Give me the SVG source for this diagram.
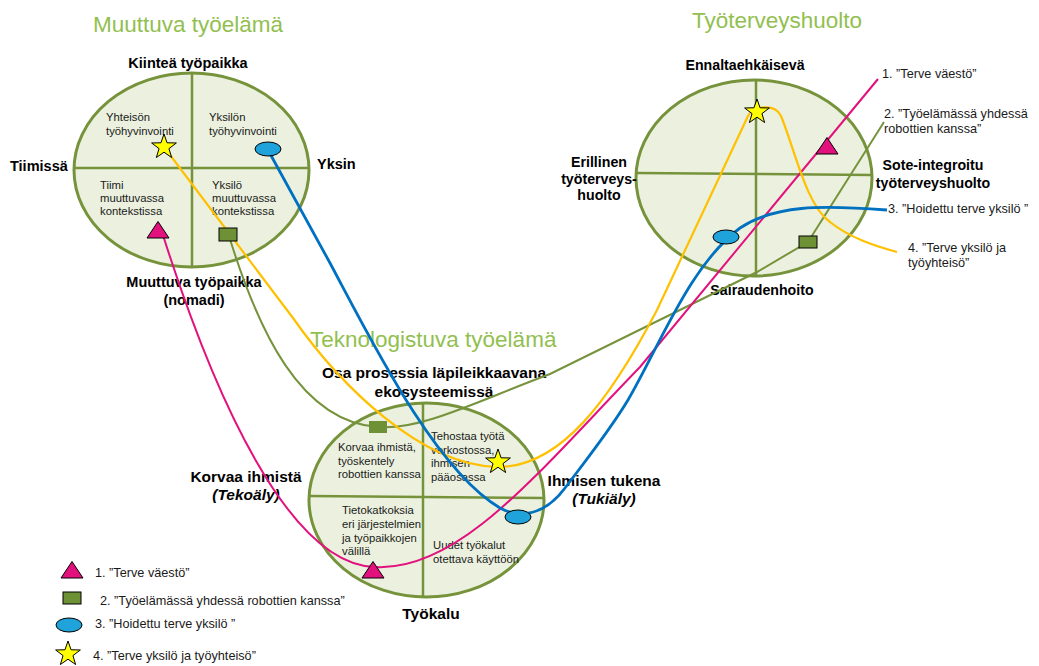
<svg xmlns="http://www.w3.org/2000/svg" xmlns:xlink="http://www.w3.org/1999/xlink" width="1039" height="666" viewBox="0 0 1039 666">
<defs>
<style>
.circ{fill:#EBF1DE;stroke:#76933C;stroke-width:3}
.axis{stroke:#76933C;stroke-width:2.5;fill:none}
.title{font-family:"Liberation Sans",Arial,sans-serif;font-size:22.5px;fill:#92C050}
.lbl{font-family:"Liberation Sans",Arial,sans-serif;font-weight:bold;font-size:14.5px;fill:#000}
.lbl2{font-family:"Liberation Sans",Arial,sans-serif;font-weight:bold;font-size:15.5px;fill:#000}
.in{font-family:"Liberation Sans",Arial,sans-serif;font-size:11.3px;fill:#1a1a1a}
.leg{font-family:"Liberation Sans",Arial,sans-serif;font-size:12.7px;fill:#1a1a1a}
.c{text-anchor:middle}
.pink{stroke:#E2117E;stroke-width:2;fill:none}
.green{stroke:#76933C;stroke-width:2;fill:none}
.yellow{stroke:#FFC000;stroke-width:2.2;fill:none}
.blue{stroke:#0070C0;stroke-width:2.8;fill:none}
.tri{fill:#E2117E;stroke:#000;stroke-width:1}
.sq{fill:#6E9135;stroke:#000;stroke-width:1}
.ell{fill:#1FA3DA;stroke:#000;stroke-width:1}
.star{fill:#FFFF00;stroke:#000;stroke-width:1}
</style>
<polygon id="star" points="0,-13 3.06,-4.21 12.36,-4.02 4.95,1.61 7.64,10.52 0,5.2 -7.64,10.52 -4.95,1.61 -12.36,-4.02 -3.06,-4.21"/>
<polygon id="tri" points="0,-8.5 11,8 -11,8"/>
</defs>
<rect width="1039" height="666" fill="#fff"/>

<g id="muuttuva">
<text class="title" x="93" y="32">Muuttuva työelämä</text>
<ellipse class="circ" cx="191.5" cy="170" rx="117.5" ry="97"/>
<line class="axis" x1="192" y1="73" x2="192" y2="267"/>
<line class="axis" x1="74" y1="168" x2="309" y2="168"/>
<text class="lbl c" x="188" y="68">Kiinteä työpaikka</text>
<text class="lbl" x="10" y="171">Tiimissä</text>
<text class="lbl" x="317" y="169">Yksin</text>
<text class="lbl c" x="194" y="287">Muuttuva työpaikka</text>
<text class="lbl c" x="194" y="305">(nomadi)</text>
<text class="in" x="106" y="121">Yhteisön</text>
<text class="in" x="106" y="135">työhyvinvointi</text>
<text class="in" x="209" y="121">Yksilön</text>
<text class="in" x="209" y="135">työhyvinvointi</text>
<text class="in" x="100" y="189">Tiimi</text>
<text class="in" x="100" y="202">muuttuvassa</text>
<text class="in" x="100" y="215">kontekstissa</text>
<text class="in" x="212" y="189">Yksilö</text>
<text class="in" x="212" y="202">muuttuvassa</text>
<text class="in" x="212" y="215">kontekstissa</text>
</g>

<g id="tyoterveyshuolto">
<text class="title" x="692" y="28">Työterveyshuolto</text>
<ellipse class="circ" cx="754" cy="178" rx="118" ry="98"/>
<line class="axis" x1="756" y1="80" x2="756" y2="276"/>
<line class="axis" x1="636" y1="173" x2="872" y2="175"/>
<text class="lbl c" x="745" y="70" style="font-size:14.2px">Ennaltaehkäisevä</text>
<text class="lbl c" x="599" y="167" style="font-size:14.2px">Erillinen</text>
<text class="lbl c" x="599" y="184" style="font-size:14.2px">työterveys-</text>
<text class="lbl c" x="599" y="200" style="font-size:14.2px">huolto</text>
<text class="lbl c" x="933" y="170" style="font-size:14.2px">Sote-integroitu</text>
<text class="lbl c" x="933" y="188" style="font-size:14.2px">työterveyshuolto</text>
<text class="lbl c" x="762" y="295" style="font-size:14.2px">Sairaudenhoito</text>
</g>

<g id="teknologistuva">
<text class="title" x="310" y="347">Teknologistuva työelämä</text>
<ellipse class="circ" cx="426.5" cy="500" rx="117.5" ry="97"/>
<line class="axis" x1="423" y1="403" x2="423" y2="597"/>
<line class="axis" x1="309" y1="496" x2="544" y2="498"/>
<text class="lbl2 c" x="434" y="378">Osa prosessia läpileikkaavana</text>
<text class="lbl2 c" x="434" y="397">ekosysteemissä</text>
<text class="lbl2 c" x="246" y="482">Korvaa ihmistä</text>
<text class="lbl2 c" x="246" y="500" font-style="italic">(Tekoäly)</text>
<text class="lbl2 c" x="604" y="486">Ihmisen tukena</text>
<text class="lbl2 c" x="604" y="504" font-style="italic">(Tukiäly)</text>
<text class="lbl2 c" x="431" y="619">Työkalu</text>
<text class="in" x="338" y="451">Korvaa ihmistä,</text>
<text class="in" x="338" y="465">työskentely</text>
<text class="in" x="338" y="478">robottien kanssa</text>
<text class="in" x="431" y="440">Tehostaa työtä</text>
<text class="in" x="431" y="454">verkostossa,</text>
<text class="in" x="431" y="467">ihmisen</text>
<text class="in" x="431" y="481">pääosassa</text>
<text class="in" x="342" y="514">Tietokatkoksia</text>
<text class="in" x="342" y="528">eri järjestelmien</text>
<text class="in" x="342" y="542">ja työpaikkojen</text>
<text class="in" x="342" y="555">välillä</text>
<text class="in" x="433" y="549">Uudet työkalut</text>
<text class="in" x="433" y="563">otettava käyttöön</text>
</g>

<g id="connectors">
<path class="green" d="M229,236 C258,330 300,422 378,427 C420,431 480,400 550,374 L757,272 L808,242 L884,122"/>
<path class="pink" d="M162,232 C215,400 290,565 375,567 C460,572 540,470 640,367 L878,79"/>
<path class="yellow" d="M164,147 L293,318 C340,385 420,465 497,467 C560,468 610,400 657,310 L748,116 C753,106 775,103 781,116 C795,150 806,205 830,222 C850,238 875,246 897,252"/>
<path class="blue" d="M268,150 L330,263 C370,338 435,470 500,508 C520,519 545,515 565,488 C590,455 610,430 628,400 C660,345 690,265 740,228 C775,205 820,205 887,210"/>
</g>

<g id="markers">
<use href="#star" class="star" x="164" y="147"/>
<ellipse class="ell" cx="268" cy="149" rx="13" ry="7"/>
<use href="#tri" class="tri" x="158" y="230"/>
<rect class="sq" x="219" y="228" width="18" height="13"/>
<use href="#star" class="star" x="757" y="112"/>
<use href="#tri" class="tri" x="827" y="146"/>
<ellipse class="ell" cx="726" cy="237" rx="13" ry="7"/>
<rect class="sq" x="799" y="236" width="18" height="12"/>
<rect x="369" y="421" width="18" height="12" fill="#6E9135"/>
<use href="#star" class="star" x="498" y="462"/>
<ellipse class="ell" cx="518" cy="517" rx="13" ry="7"/>
<use href="#tri" class="tri" x="373" y="570"/>
</g>

<g id="labels-right">
<text class="leg" x="882" y="78">1. ”Terve väestö”</text>
<text class="leg" x="884" y="118">2. ”Työelämässä yhdessä</text>
<text class="leg" x="884" y="133">robottien kanssa”</text>
<text class="leg" x="888" y="213">3. ”Hoidettu terve yksilö ”</text>
<text class="leg" x="908" y="252">4. ”Terve yksilö ja</text>
<text class="leg" x="908" y="267">työyhteisö”</text>
</g>

<g id="legend">
<use href="#tri" class="tri" x="72" y="570"/>
<text class="leg" x="95" y="577">1. ”Terve väestö”</text>
<rect class="sq" x="63" y="592" width="18" height="12"/>
<text class="leg" x="100" y="605">2. ”Työelämässä yhdessä robottien kanssa”</text>
<ellipse class="ell" cx="69" cy="625" rx="13" ry="7"/>
<text class="leg" x="95" y="628">3. ”Hoidettu terve yksilö ”</text>
<use href="#star" class="star" x="68" y="654"/>
<text class="leg" x="93" y="660">4. ”Terve yksilö ja työyhteisö”</text>
</g>
</svg>
